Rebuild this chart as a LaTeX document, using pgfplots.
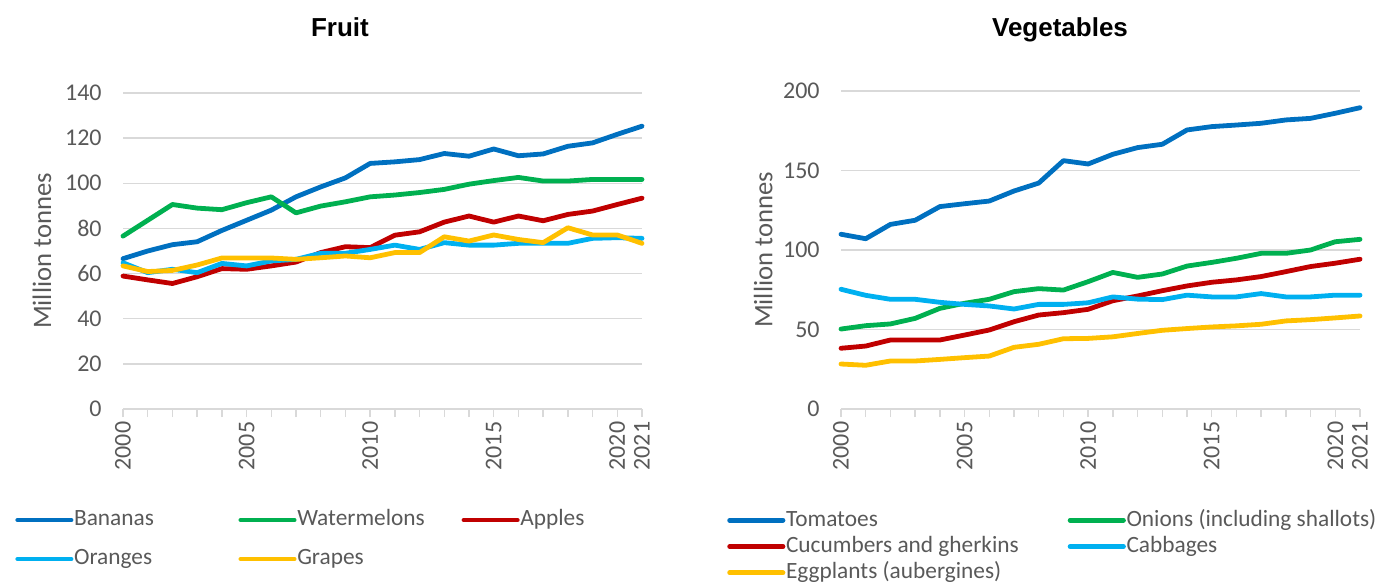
\documentclass[border=0pt]{standalone}
\usepackage{pgfplots}
\pgfplotsset{compat=1.18}
\usepackage{pgfplotstable}
\usepackage{fontspec}
\setmainfont{Carlito}
\newfontfamily\titlefont{Liberation Sans}
\definecolor{txtgrey}{HTML}{595959}
\definecolor{gridgrey}{HTML}{D9D9D9}
\definecolor{cblue}{HTML}{0070C0}
\definecolor{cgreen}{HTML}{00B050}
\definecolor{cred}{HTML}{C00000}
\definecolor{ccyan}{HTML}{00B0F0}
\definecolor{cyellow}{HTML}{FFC000}
\newcommand\tickfont{\fontsize{18}{21}\selectfont}
\newcommand\legfont{\fontsize{17.5}{21}\selectfont}
\newcommand\LE[2]{\makebox[#1][l]{\hspace{0.5pt}\rule[-5pt]{0pt}{18pt}#2}}

\pgfplotstableread{
year Bananas Watermelons Apples Oranges Grapes
2000 66.6 76.6 58.9 64.8 63.4
2001 70.0 83.6 57.2 60.4 60.9
2002 72.8 90.6 55.6 61.9 61.4
2003 74.1 89.0 58.6 60.4 63.8
2004 79.1 88.3 62.2 64.5 66.9
2005 83.6 91.4 61.9 63.4 66.9
2006 88.1 94.0 63.4 65.6 66.9
2007 94.0 86.9 65.1 66.3 66.3
2008 98.4 89.9 69.3 69.0 67.0
2009 102.4 91.8 71.9 69.0 67.8
2010 108.8 94.0 71.5 70.7 67.0
2011 109.5 94.8 77.0 72.6 69.3
2012 110.5 95.9 78.5 70.7 69.3
2013 113.2 97.3 82.8 73.7 76.3
2014 112.0 99.6 85.5 72.6 74.4
2015 115.2 101.2 82.8 72.6 77.1
2016 112.2 102.6 85.5 73.4 75.1
2017 113.0 101.0 83.4 73.4 73.7
2018 116.4 101.0 86.2 73.4 80.3
2019 117.9 101.7 87.7 75.6 77.1
2020 121.7 101.7 90.6 75.9 77.1
2021 125.3 101.7 93.4 75.6 73.4
}\fruit

\pgfplotstableread{
year Tomatoes Onions Cucumbers Cabbages Eggplants
2000 109.9 50.3 38.2 75.3 28.3
2001 107.1 52.4 39.6 71.5 27.5
2002 116.1 53.5 43.4 69.0 30.2
2003 118.7 57.0 43.4 69.0 30.2
2004 127.3 63.3 43.4 67.1 31.2
2005 129.1 66.5 46.5 65.8 32.3
2006 130.8 69.0 49.7 64.8 33.3
2007 137.1 73.8 54.9 62.9 38.8
2008 142.1 75.7 59.1 65.8 40.7
2009 156.2 74.8 60.6 65.8 44.2
2010 154.1 80.1 62.7 66.8 44.4
2011 160.2 85.9 68.1 70.5 45.4
2012 164.4 82.8 71.1 69.1 47.5
2013 166.5 84.9 74.4 68.8 49.5
2014 175.5 89.9 77.4 71.6 50.6
2015 177.6 92.2 79.7 70.5 51.6
2016 178.6 94.8 81.2 70.5 52.3
2017 179.7 97.9 83.3 72.6 53.3
2018 181.8 97.9 86.4 70.5 55.4
2019 182.8 100.0 89.6 70.5 56.2
2020 186.0 105.2 91.7 71.6 57.3
2021 189.5 106.7 94.2 71.6 58.5
}\veg

\pgfplotsset{
  every axis title shift=0pt,
  myax/.style={
    scale only axis, width=389.25pt, anchor=south west,
    xmin=2000, xmax=2021, ymin=0,
    axis x line*=bottom, axis y line*=left,
    y axis line style={draw=none},
    x axis line style={draw=gridgrey, line width=1pt, -},
    xtick={2000,2005,2010,2015,2020,2021},
    xticklabels={2000,2005,2010,2015,2020,2021},
    minor xtick={2001,2002,2003,2004,2006,2007,2008,2009,2011,2012,2013,2014,2016,2017,2018,2019},
    tick align=outside,
    major tick length=6pt, minor tick length=6pt,
    xtick style={draw=gridgrey, line width=1pt},
    minor tick style={draw=gridgrey, line width=1pt},
    ytick style={draw=none},
    ymajorgrids, grid style={draw=gridgrey, line width=1pt},
    tick label style={font=\tickfont, text=txtgrey},
    xticklabel style={rotate=90, anchor=east},
    yticklabel style={xshift=-6.5pt},
    /pgf/number format/1000 sep={},
    /pgf/number format/assume math mode=true,
    ylabel={Million tonnes},
    ylabel style={font=\fontsize{20}{24}\selectfont, text=txtgrey, anchor=center},
    title style={font=\titlefont\bfseries\fontsize{19.5}{23}\selectfont, text=black, anchor=base},
    clip=false,
    every axis plot/.append style={line width=3.6pt, line join=round, line cap=round},
    legend image code/.code={\draw[#1, line cap=round] (0pt,-1.4pt) -- (40pt,-1.4pt);},
    legend cell align=left,
  }
}

\begin{document}
\begin{tikzpicture}
\path[use as bounding box] (0,0) rectangle (1037.25pt,437.25pt);

\begin{axis}[myax,
  at={(92.25pt,130.5pt)}, height=237pt,
  ymax=140, ytick={0,20,...,140},
  title={Fruit},
  title style={at={(axis description cs:0.418,1.178)}},
  ylabel style={at={(axis description cs:-0.156,0.5)}},
  legend columns=3,
  legend style={draw=none, fill=none, at={(axis description cs:-0.208,-0.314)}, anchor=north west,
    font=\legfont, text=txtgrey, inner sep=0pt, column sep=0pt, row sep=14.75pt,
    nodes={inner sep=0pt}},
]
\addplot[cblue] table[x=year,y=Bananas] {\fruit};
\addlegendentry{\LE{123.75pt}{Bananas}}
\addplot[cgreen] table[x=year,y=Watermelons] {\fruit};
\addlegendentry{\LE{123.75pt}{Watermelons}}
\addplot[cred] table[x=year,y=Apples] {\fruit};
\addlegendentry{\LE{80pt}{Apples}}
\addplot[ccyan] table[x=year,y=Oranges] {\fruit};
\addlegendentry{\LE{123.75pt}{Oranges}}
\addplot[cyellow] table[x=year,y=Grapes] {\fruit};
\addlegendentry{\LE{123.75pt}{Grapes}}
\end{axis}

\begin{axis}[myax,
  at={(630.75pt,130.5pt)}, height=238.5pt,
  ymax=200, ytick={0,50,...,200},
  title={Vegetables},
  title style={at={(axis description cs:0.422,1.170)}},
  ylabel style={at={(axis description cs:-0.150,0.5)}},
  legend columns=2,
  legend style={draw=none, fill=none, at={(axis description cs:-0.2197,-0.3126)}, anchor=north west,
    font=\legfont, text=txtgrey, inner sep=0pt, column sep=0pt, row sep=5.25pt,
    nodes={inner sep=0pt}},
]
\addplot[cblue] table[x=year,y=Tomatoes] {\veg};
\addlegendentry{\LE{211.75pt}{Tomatoes}}
\addplot[cgreen] table[x=year,y=Onions] {\veg};
\addlegendentry{\LE{195pt}{Onions (including shallots)}}
\addplot[cred] table[x=year,y=Cucumbers] {\veg};
\addlegendentry{\LE{211.75pt}{Cucumbers and gherkins}}
\addplot[ccyan] table[x=year,y=Cabbages] {\veg};
\addlegendentry{\LE{195pt}{Cabbages}}
\addplot[cyellow] table[x=year,y=Eggplants] {\veg};
\addlegendentry{\LE{211.75pt}{Eggplants (aubergines)}}
\end{axis}
\end{tikzpicture}
\end{document}
